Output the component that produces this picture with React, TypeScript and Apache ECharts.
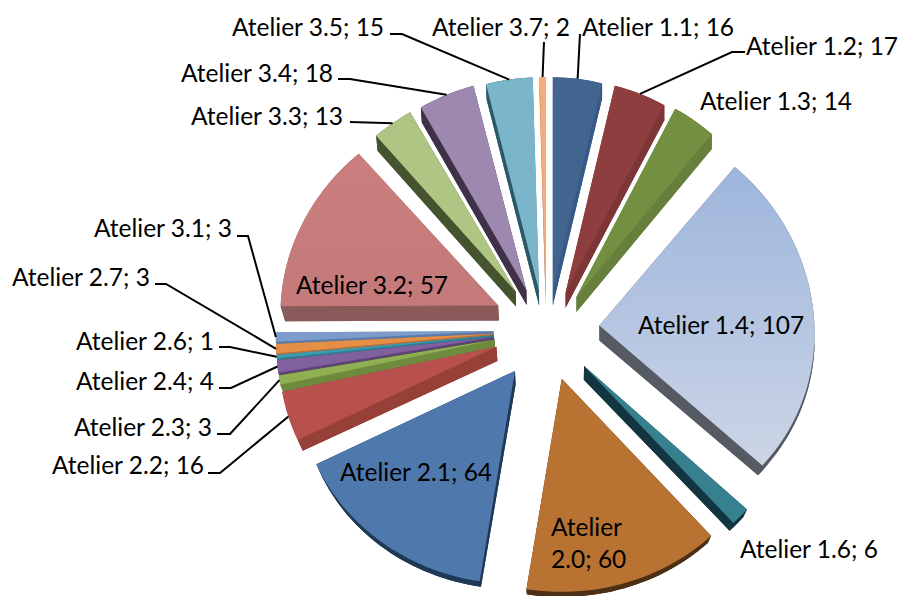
import React, { useEffect, useRef } from "react";
import * as echarts from "echarts";

// ---- data -----------------------------------------------------------------
const names = [
  "Atelier 1.1", "Atelier 1.2", "Atelier 1.3", "Atelier 1.4", "Atelier 1.6", "Atelier 2.0",
  "Atelier 2.1", "Atelier 2.2", "Atelier 2.3", "Atelier 2.4", "Atelier 2.6", "Atelier 2.7",
  "Atelier 3.1", "Atelier 3.2", "Atelier 3.3", "Atelier 3.4", "Atelier 3.5", "Atelier 3.7",
];
const values = [16, 17, 14, 107, 6, 60, 64, 16, 3, 4, 1, 3, 3, 57, 13, 18, 15, 2];

// ---- styling --------------------------------------------------------------
const faceTop = [
  "#41658f", "#8e3e3e", "#738f42", "#9db5dc", "#37808f", "#b87333",
  "#4f79ad", "#b8504d", "#8fb050", "#80609f", "#3c9cb0", "#e58e45",
  "#7c9dcb", "#cb7e7d", "#aec583", "#9d88b0", "#7bb5ca", "#f5ab7b",
];
const faceBottom = [
  "#41658f", "#8e3e3e", "#738f42", "#ccd5e6", "#37808f", "#b87333",
  "#4f79ad", "#b8504d", "#8fb050", "#80609f", "#3c9cb0", "#e58e45",
  "#7c9dcb", "#c47a7a", "#aec583", "#9d88b0", "#7bb5ca", "#f5ab7b",
];
const sideColor = [
  "#365a85", "#7d3535", "#66803b", "#555a63", "#123540", "#4d2f15",
  "#1e3856", "#964038", "#6e8a3e", "#5c4475", "#2f7f90", "#b8703a",
  "#5d7ba8", "#8a5a5a", "#45532f", "#3e3148", "#2b5a66", "#c98a60",
];

// ---- label layout: [left x, centre y] --------------------------------------
const labelPos: [number, number][] = [
  [582, 26], [746, 45], [700, 100], [638, 324], [740, 548], [551, 542],
  [340, 471], [52, 464], [74, 426], [76, 380], [76, 340], [12, 276],
  [94, 227], [296, 284], [191, 115], [181, 72], [232, 26], [432, 26],
];
const labelBreak = [5];
// leader start: [x, y, elbow x]; the far end comes from the slice geometry
const leaderStart: ([number, number, number] | null)[] = [
  [580, 34, 580], [745, 52, 732], null, null, null, null,
  null, [208, 473, 220], [217, 434, 230], [219, 388, 231], [219, 347, 230], [155, 284, 166],
  [237, 236, 248], null, [350, 122, 350], [338, 79, 350], [390, 34, 402], [544, 42, 544],
];
// per-slice perspective corrections: apex shift in y, and vertical radius
const apexShift = [0, 0, 0, -2, 0, 0, 0, 0, 0, 0, 0, 0, 0, -8, -6, -3, 0, 0];
const verticalRadius = [
  213, 213, 214, 208, 213, 213, 213, 213, 213, 213, 213, 213, 213, 202, 207, 211, 213, 213,
];

// ---- projection of the tilted, exploded pie ---------------------------------
const CX = 546.5;
const CY = 330;
const total = values.reduce((a, b) => a + b, 0);
const starts: number[] = [];
values.reduce((acc, v, i) => ((starts[i] = acc), acc + v), 0);

const angleOf = (v: number) => (v / total) * Math.PI * 2;
const apexOf = (m: number, i: number): [number, number] => {
  const c = Math.cos(m);
  return [CX + 53 * Math.sin(m), CY - (c > 0 ? 40 : 51) * c + apexShift[i]];
};
const rimOf = (a: [number, number], t: number, i: number): [number, number] => {
  const c = Math.cos(t);
  const s = Math.sin(t);
  return [a[0] + (215 - 8 * c + (s < 0 ? 2.5 : 0)) * s, a[1] - verticalRadius[i] * c];
};
const drop = (p: [number, number]): [number, number] => {
  const [x, y] = p;
  const dy = 15 - 0.038 * Math.max(0, y - CY);
  const f =
    x > CX
      ? y > CY
        ? Math.min(1, (y - CY) / 120)
        : 0
      : y < CY
        ? Math.max(0.4, 1 - (CY - y) / 150)
        : 1;
  return [x + 0.02 * f * (CX - x), y + dy];
};

const renderSlice = (_params: any, api: any) => {
  const i = api.value(0) as number;
  const t0 = angleOf(starts[i]);
  const t1 = angleOf(starts[i] + values[i]);
  const mid = (t0 + t1) / 2;
  const apex = apexOf(mid, i);
  const rim: [number, number][] = [];
  const n = Math.max(2, Math.ceil((t1 - t0) / 0.03));
  for (let k = 0; k <= n; k++) rim.push(rimOf(apex, t0 + ((t1 - t0) * k) / n, i));
  const top = [apex, ...rim];
  const low = top.map(drop);
  const rank = Math.round((1 - Math.cos(mid)) * 10 * 100);
  const side = { fill: sideColor[i] };
  const poly = (points: [number, number][], style: any, z2: number) => ({
    type: "polygon",
    shape: { points },
    style,
    z2,
    silent: true,
  });
  const children: any[] = [
    poly(low, side, rank),
    poly([apex, rim[0], low[1], low[0]], side, rank),
    poly([apex, rim[n], low[n + 1], low[0]], side, rank),
    poly([...rim, ...rim.map(drop).reverse()], side, rank),
    poly(
      top,
      {
        fill: new echarts.graphic.LinearGradient(0, 0, 0, 1, [
          { offset: 0, color: faceTop[i] },
          { offset: 1, color: faceBottom[i] },
        ]),
      },
      rank + 1,
    ),
  ];
  const lead = leaderStart[i];
  if (lead) {
    const end = rimOf(apex, mid, i);
    children.push({
      type: "polyline",
      shape: { points: [[lead[0], lead[1]], [lead[2], lead[1]], end] },
      style: { stroke: "#000", lineWidth: 2, fill: "none" },
      z2: 5000,
      silent: true,
    });
  }
  const text = labelBreak.includes(i)
    ? `${names[i].replace(" ", "\n")}; ${values[i]}`
    : `${names[i]}; ${values[i]}`;
  children.push({
    type: "text",
    x: labelPos[i][0],
    y: labelPos[i][1],
    style: {
      text,
      fill: "#000",
      font: "24.5px Lato",
      align: "left",
      verticalAlign: "middle",
      lineHeight: 32,
    },
    z2: 6000,
    silent: true,
  });
  return { type: "group", children };
};

export default function App() {
  const ref = useRef<HTMLDivElement>(null);
  useEffect(() => {
    document.body.style.margin = "0";
    const chart = echarts.init(ref.current!, undefined, { renderer: "svg" });
    chart.setOption({
      animation: false,
      backgroundColor: "#ffffff",
      series: [
        {
          type: "custom",
          coordinateSystem: "none",
          renderItem: renderSlice,
          data: values.map((v, i) => [i, v]),
          silent: true,
        },
      ],
    });
    return () => chart.dispose();
  }, []);
  return <div ref={ref} style={{ width: 900, height: 596 }} />;
}
